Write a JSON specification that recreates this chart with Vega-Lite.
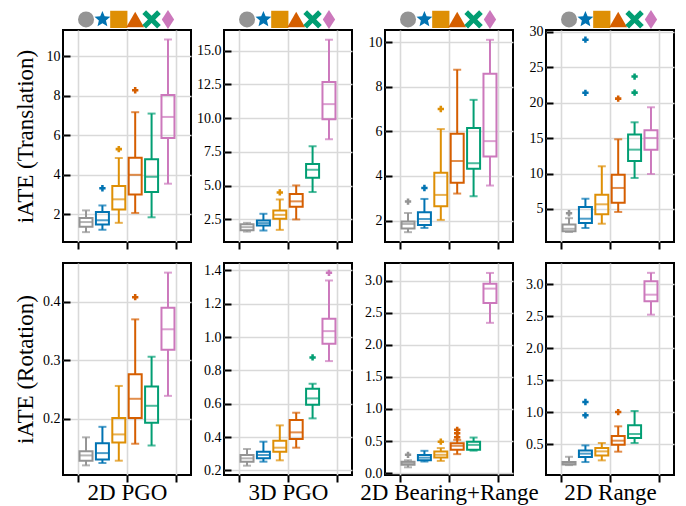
{
"$schema":"https://vega.github.io/schema/vega-lite/v6.json",
"padding":{"left":13,"top":8,"right":5,"bottom":0},
"config":{"font":"Liberation Serif","view":{"stroke":"black","strokeWidth":2},
"axis":{"domain":false,"gridColor":"#d9d9d9","gridWidth":1.6,"tickColor":"black","tickWidth":2,"labelFont":"Liberation Serif","labelFontSize":14,"labelColor":"black","labelOverlap":false,"titleFont":"Liberation Serif","titleFontSize":23,"titleFontWeight":"normal","titleColor":"black"},
"axisX":{"tickSize":7,"labels":false,"grid":true,"titlePadding":-2},
"axisY":{"tickSize":-7,"labelPadding":10,"grid":true,"titlePadding":4,"labelOverlap":false}},
"datasets":{
"rows":[
{"p":"PGO2","m":"T","k":1,"lo":1.1,"q1":1.37,"md":1.61,"q3":1.81,"hi":2.2},
{"p":"PGO2","m":"T","k":2,"lo":1.22,"q1":1.48,"md":1.7,"q3":2.12,"hi":2.45},
{"p":"PGO2","m":"T","k":3,"lo":1.57,"q1":2.25,"md":2.76,"q3":3.43,"hi":4.85},
{"p":"PGO2","m":"T","k":4,"lo":2.07,"q1":3.01,"md":4.0,"q3":4.87,"hi":7.17},
{"p":"PGO2","m":"T","k":5,"lo":1.85,"q1":3.13,"md":3.9,"q3":4.79,"hi":7.1},
{"p":"PGO2","m":"T","k":6,"lo":3.55,"q1":5.86,"md":6.93,"q3":8.04,"hi":10.85},
{"p":"PGO2","m":"T","k":2,"v":3.32},
{"p":"PGO2","m":"T","k":3,"v":5.3},
{"p":"PGO2","m":"T","k":4,"v":8.28},
{"p":"PGO3","m":"T","k":1,"lo":1.6,"q1":1.7,"md":1.93,"q3":2.15,"hi":2.25},
{"p":"PGO3","m":"T","k":2,"lo":1.68,"q1":2.05,"md":2.23,"q3":2.43,"hi":2.92},
{"p":"PGO3","m":"T","k":3,"lo":1.73,"q1":2.55,"md":2.84,"q3":3.17,"hi":3.98},
{"p":"PGO3","m":"T","k":4,"lo":2.5,"q1":3.44,"md":3.84,"q3":4.38,"hi":5.02},
{"p":"PGO3","m":"T","k":5,"lo":4.53,"q1":5.59,"md":6.18,"q3":6.6,"hi":7.92},
{"p":"PGO3","m":"T","k":6,"lo":8.44,"q1":9.92,"md":11.04,"q3":12.67,"hi":15.81},
{"p":"PGO3","m":"T","k":3,"v":4.5},
{"p":"BR","m":"T","k":1,"lo":1.48,"q1":1.65,"md":1.85,"q3":1.96,"hi":2.34},
{"p":"BR","m":"T","k":2,"lo":1.67,"q1":1.8,"md":2.07,"q3":2.37,"hi":2.97},
{"p":"BR","m":"T","k":3,"lo":2.03,"q1":2.64,"md":3.15,"q3":4.14,"hi":6.1},
{"p":"BR","m":"T","k":4,"lo":3.21,"q1":3.7,"md":4.67,"q3":5.89,"hi":8.76},
{"p":"BR","m":"T","k":5,"lo":3.09,"q1":4.32,"md":4.57,"q3":6.15,"hi":7.41},
{"p":"BR","m":"T","k":6,"lo":3.57,"q1":4.87,"md":5.56,"q3":8.58,"hi":10.1},
{"p":"BR","m":"T","k":1,"v":2.85},
{"p":"BR","m":"T","k":2,"v":3.46},
{"p":"BR","m":"T","k":3,"v":7.0},
{"p":"RG","m":"T","k":1,"lo":1.75,"q1":1.85,"md":2.2,"q3":2.8,"hi":3.7},
{"p":"RG","m":"T","k":2,"lo":2.32,"q1":3.02,"md":3.63,"q3":5.28,"hi":6.45},
{"p":"RG","m":"T","k":3,"lo":2.92,"q1":4.25,"md":5.66,"q3":7.02,"hi":11.03},
{"p":"RG","m":"T","k":4,"lo":4.58,"q1":5.89,"md":7.97,"q3":9.85,"hi":14.84},
{"p":"RG","m":"T","k":5,"lo":9.38,"q1":11.78,"md":13.38,"q3":15.5,"hi":17.24},
{"p":"RG","m":"T","k":6,"lo":9.94,"q1":13.38,"md":15.03,"q3":16.11,"hi":19.36},
{"p":"RG","m":"T","k":1,"v":4.4},
{"p":"RG","m":"T","k":2,"v":21.4},
{"p":"RG","m":"T","k":2,"v":28.9},
{"p":"RG","m":"T","k":4,"v":20.58},
{"p":"RG","m":"T","k":5,"v":21.43},
{"p":"RG","m":"T","k":5,"v":23.69},
{"p":"PGO2","m":"R","k":1,"lo":0.12,"q1":0.128,"md":0.137,"q3":0.144,"hi":0.168},
{"p":"PGO2","m":"R","k":2,"lo":0.124,"q1":0.13,"md":0.141,"q3":0.158,"hi":0.186},
{"p":"PGO2","m":"R","k":3,"lo":0.128,"q1":0.159,"md":0.173,"q3":0.201,"hi":0.256},
{"p":"PGO2","m":"R","k":4,"lo":0.157,"q1":0.201,"md":0.234,"q3":0.276,"hi":0.37},
{"p":"PGO2","m":"R","k":5,"lo":0.154,"q1":0.193,"md":0.222,"q3":0.255,"hi":0.306},
{"p":"PGO2","m":"R","k":6,"lo":0.239,"q1":0.318,"md":0.353,"q3":0.39,"hi":0.45},
{"p":"PGO2","m":"R","k":4,"v":0.408},
{"p":"PGO3","m":"R","k":1,"lo":0.228,"q1":0.252,"md":0.272,"q3":0.292,"hi":0.328},
{"p":"PGO3","m":"R","k":2,"lo":0.252,"q1":0.272,"md":0.292,"q3":0.312,"hi":0.372},
{"p":"PGO3","m":"R","k":3,"lo":0.26,"q1":0.312,"md":0.336,"q3":0.378,"hi":0.47},
{"p":"PGO3","m":"R","k":4,"lo":0.336,"q1":0.388,"md":0.428,"q3":0.502,"hi":0.546},
{"p":"PGO3","m":"R","k":5,"lo":0.512,"q1":0.594,"md":0.632,"q3":0.69,"hi":0.72},
{"p":"PGO3","m":"R","k":6,"lo":0.856,"q1":0.96,"md":1.036,"q3":1.11,"hi":1.34},
{"p":"PGO3","m":"R","k":5,"v":0.878},
{"p":"PGO3","m":"R","k":6,"v":1.386},
{"p":"BR","m":"R","k":1,"lo":0.09,"q1":0.13,"md":0.155,"q3":0.175,"hi":0.2},
{"p":"BR","m":"R","k":2,"lo":0.18,"q1":0.2,"md":0.24,"q3":0.28,"hi":0.347},
{"p":"BR","m":"R","k":3,"lo":0.19,"q1":0.244,"md":0.285,"q3":0.337,"hi":0.39},
{"p":"BR","m":"R","k":4,"lo":0.295,"q1":0.363,"md":0.425,"q3":0.466,"hi":0.518},
{"p":"BR","m":"R","k":5,"lo":0.35,"q1":0.363,"md":0.44,"q3":0.49,"hi":0.554},
{"p":"BR","m":"R","k":6,"lo":2.342,"q1":2.653,"md":2.876,"q3":2.95,"hi":3.12},
{"p":"BR","m":"R","k":1,"v":0.285},
{"p":"BR","m":"R","k":3,"v":0.49},
{"p":"BR","m":"R","k":4,"v":0.56},
{"p":"BR","m":"R","k":4,"v":0.622},
{"p":"BR","m":"R","k":4,"v":0.674},
{"p":"RG","m":"R","k":1,"lo":0.17,"q1":0.18,"md":0.2,"q3":0.22,"hi":0.3},
{"p":"RG","m":"R","k":2,"lo":0.218,"q1":0.296,"md":0.349,"q3":0.4,"hi":0.479},
{"p":"RG","m":"R","k":3,"lo":0.244,"q1":0.32,"md":0.385,"q3":0.437,"hi":0.516},
{"p":"RG","m":"R","k":4,"lo":0.38,"q1":0.49,"md":0.552,"q3":0.625,"hi":0.777},
{"p":"RG","m":"R","k":5,"lo":0.516,"q1":0.594,"md":0.657,"q3":0.792,"hi":1.017},
{"p":"RG","m":"R","k":6,"lo":2.525,"q1":2.734,"md":2.838,"q3":3.05,"hi":3.18},
{"p":"RG","m":"R","k":2,"v":0.949},
{"p":"RG","m":"R","k":2,"v":1.158},
{"p":"RG","m":"R","k":4,"v":1.0}
],
"icons":[{"k":1},{"k":2},{"k":3},{"k":4},{"k":5},{"k":6}]
},
"data":{"name":"rows"},
"columns":4,
"spacing":{"row":21,"column":33},
"bounds":"flush",
"concat":[
{"width":128,"height":212,"resolve":{"scale":{"y":"independent"}},"layer":[
{"transform":[{"filter":"datum.p=='PGO2'&&datum.m=='T'"}],
"encoding":{"x":{"field":"k","type":"quantitative","scale":{"domain":[-0.1,7.1],"nice":false,"zero":false},"axis":{"values":[0.5,3.5,6.5],"title":null}},"color":{"field":"k","type":"nominal","scale":{"domain":[1,2,3,4,5,6],"range":["#949494","#0173b2","#de8f05","#d55e00","#029e73","#cc78bc"]},"legend":null}},
"layer":[
{"mark":{"type":"rule","strokeWidth":2},"encoding":{"y":{"field":"lo","type":"quantitative","scale":{"domain":[0.6,11.33],"nice":false,"zero":false},"axis":{"values":[2,4,6,8,10],"tickCount":20,"format":"d","labelOverlap":false,"title":"iATE (Translation)","minExtent":22,"maxExtent":22}},"y2":{"field":"q1"}}},
{"mark":{"type":"rule","strokeWidth":2},"encoding":{"y":{"field":"q3","type":"quantitative"},"y2":{"field":"hi"}}},
{"mark":{"type":"bar","size":13,"filled":false,"strokeWidth":2},"encoding":{"y":{"field":"q1","type":"quantitative"},"y2":{"field":"q3"}}},
{"mark":{"type":"tick","orient":"horizontal","size":13,"thickness":2},"encoding":{"y":{"field":"md","type":"quantitative"}}},
{"mark":{"type":"tick","orient":"horizontal","size":8,"thickness":2},"encoding":{"y":{"field":"lo","type":"quantitative"}}},
{"mark":{"type":"tick","orient":"horizontal","size":8,"thickness":2},"encoding":{"y":{"field":"hi","type":"quantitative"}}},
{"mark":{"type":"point","shape":"cross","filled":true,"size":40,"opacity":1},"encoding":{"y":{"field":"v","type":"quantitative"}}}
]},
{"data":{"name":"icons"},"mark":{"type":"point","filled":true,"opacity":1},"encoding":{"x":{"field":"k","type":"quantitative"},"y":{"datum":1.05,"type":"quantitative","scale":{"domain":[0,1],"nice":false,"zero":false},"axis":null},"color":{"field":"k","type":"nominal","legend":null},"shape":{"field":"k","type":"nominal","scale":{"domain":[1,2,3,4,5,6],"range":["circle","M0,-1L0.265,-0.364L0.951,-0.309L0.428,0.139L0.588,0.809L0,0.45L-0.588,0.809L-0.428,0.139L-0.951,-0.309L-0.265,-0.364Z","square","triangle-up","M-0.6,-1L0,-0.4L0.6,-1L1,-0.6L0.4,0L1,0.6L0.6,1L0,0.4L-0.6,1L-1,0.6L-0.4,0L-1,-0.6Z","M0,-1L0.65,0L0,1L-0.65,0Z"]},"legend":null},"size":{"field":"k","type":"ordinal","scale":{"domain":[1,2,3,4,5,6],"range":[256,360,272,361,324,400]},"legend":null}}}
]},
{"width":128,"height":212,"resolve":{"scale":{"y":"independent"}},"layer":[
{"transform":[{"filter":"datum.p=='PGO3'&&datum.m=='T'"}],
"encoding":{"x":{"field":"k","type":"quantitative","scale":{"domain":[-0.1,7.1],"nice":false,"zero":false},"axis":{"values":[0.5,3.5,6.5],"title":null}},"color":{"field":"k","type":"nominal","scale":{"domain":[1,2,3,4,5,6],"range":["#949494","#0173b2","#de8f05","#d55e00","#029e73","#cc78bc"]},"legend":null}},
"layer":[
{"mark":{"type":"rule","strokeWidth":2},"encoding":{"y":{"field":"lo","type":"quantitative","scale":{"domain":[0.83,16.53],"nice":false,"zero":false},"axis":{"values":[2.5,5,7.5,10,12.5,15],"tickCount":20,"format":".1f","labelOverlap":false,"title":null}},"y2":{"field":"q1"}}},
{"mark":{"type":"rule","strokeWidth":2},"encoding":{"y":{"field":"q3","type":"quantitative"},"y2":{"field":"hi"}}},
{"mark":{"type":"bar","size":13,"filled":false,"strokeWidth":2},"encoding":{"y":{"field":"q1","type":"quantitative"},"y2":{"field":"q3"}}},
{"mark":{"type":"tick","orient":"horizontal","size":13,"thickness":2},"encoding":{"y":{"field":"md","type":"quantitative"}}},
{"mark":{"type":"tick","orient":"horizontal","size":8,"thickness":2},"encoding":{"y":{"field":"lo","type":"quantitative"}}},
{"mark":{"type":"tick","orient":"horizontal","size":8,"thickness":2},"encoding":{"y":{"field":"hi","type":"quantitative"}}},
{"mark":{"type":"point","shape":"cross","filled":true,"size":40,"opacity":1},"encoding":{"y":{"field":"v","type":"quantitative"}}}
]},
{"data":{"name":"icons"},"mark":{"type":"point","filled":true,"opacity":1},"encoding":{"x":{"field":"k","type":"quantitative"},"y":{"datum":1.05,"type":"quantitative","scale":{"domain":[0,1],"nice":false,"zero":false},"axis":null},"color":{"field":"k","type":"nominal","legend":null},"shape":{"field":"k","type":"nominal","scale":{"domain":[1,2,3,4,5,6],"range":["circle","M0,-1L0.265,-0.364L0.951,-0.309L0.428,0.139L0.588,0.809L0,0.45L-0.588,0.809L-0.428,0.139L-0.951,-0.309L-0.265,-0.364Z","square","triangle-up","M-0.6,-1L0,-0.4L0.6,-1L1,-0.6L0.4,0L1,0.6L0.6,1L0,0.4L-0.6,1L-1,0.6L-0.4,0L-1,-0.6Z","M0,-1L0.65,0L0,1L-0.65,0Z"]},"legend":null},"size":{"field":"k","type":"ordinal","scale":{"domain":[1,2,3,4,5,6],"range":[256,360,272,361,324,400]},"legend":null}}}
]},
{"width":128,"height":212,"resolve":{"scale":{"y":"independent"}},"layer":[
{"transform":[{"filter":"datum.p=='BR'&&datum.m=='T'"}],
"encoding":{"x":{"field":"k","type":"quantitative","scale":{"domain":[-0.1,7.1],"nice":false,"zero":false},"axis":{"values":[0.5,3.5,6.5],"title":null}},"color":{"field":"k","type":"nominal","scale":{"domain":[1,2,3,4,5,6],"range":["#949494","#0173b2","#de8f05","#d55e00","#029e73","#cc78bc"]},"legend":null}},
"layer":[
{"mark":{"type":"rule","strokeWidth":2},"encoding":{"y":{"field":"lo","type":"quantitative","scale":{"domain":[1.04,10.54],"nice":false,"zero":false},"axis":{"values":[2,4,6,8,10],"tickCount":20,"format":"d","labelOverlap":false,"title":null}},"y2":{"field":"q1"}}},
{"mark":{"type":"rule","strokeWidth":2},"encoding":{"y":{"field":"q3","type":"quantitative"},"y2":{"field":"hi"}}},
{"mark":{"type":"bar","size":13,"filled":false,"strokeWidth":2},"encoding":{"y":{"field":"q1","type":"quantitative"},"y2":{"field":"q3"}}},
{"mark":{"type":"tick","orient":"horizontal","size":13,"thickness":2},"encoding":{"y":{"field":"md","type":"quantitative"}}},
{"mark":{"type":"tick","orient":"horizontal","size":8,"thickness":2},"encoding":{"y":{"field":"lo","type":"quantitative"}}},
{"mark":{"type":"tick","orient":"horizontal","size":8,"thickness":2},"encoding":{"y":{"field":"hi","type":"quantitative"}}},
{"mark":{"type":"point","shape":"cross","filled":true,"size":40,"opacity":1},"encoding":{"y":{"field":"v","type":"quantitative"}}}
]},
{"data":{"name":"icons"},"mark":{"type":"point","filled":true,"opacity":1},"encoding":{"x":{"field":"k","type":"quantitative"},"y":{"datum":1.05,"type":"quantitative","scale":{"domain":[0,1],"nice":false,"zero":false},"axis":null},"color":{"field":"k","type":"nominal","legend":null},"shape":{"field":"k","type":"nominal","scale":{"domain":[1,2,3,4,5,6],"range":["circle","M0,-1L0.265,-0.364L0.951,-0.309L0.428,0.139L0.588,0.809L0,0.45L-0.588,0.809L-0.428,0.139L-0.951,-0.309L-0.265,-0.364Z","square","triangle-up","M-0.6,-1L0,-0.4L0.6,-1L1,-0.6L0.4,0L1,0.6L0.6,1L0,0.4L-0.6,1L-1,0.6L-0.4,0L-1,-0.6Z","M0,-1L0.65,0L0,1L-0.65,0Z"]},"legend":null},"size":{"field":"k","type":"ordinal","scale":{"domain":[1,2,3,4,5,6],"range":[256,360,272,361,324,400]},"legend":null}}}
]},
{"width":128,"height":212,"resolve":{"scale":{"y":"independent"}},"layer":[
{"transform":[{"filter":"datum.p=='RG'&&datum.m=='T'"}],
"encoding":{"x":{"field":"k","type":"quantitative","scale":{"domain":[-0.1,7.1],"nice":false,"zero":false},"axis":{"values":[0.5,3.5,6.5],"title":null}},"color":{"field":"k","type":"nominal","scale":{"domain":[1,2,3,4,5,6],"range":["#949494","#0173b2","#de8f05","#d55e00","#029e73","#cc78bc"]},"legend":null}},
"layer":[
{"mark":{"type":"rule","strokeWidth":2},"encoding":{"y":{"field":"lo","type":"quantitative","scale":{"domain":[0.34,30.27],"nice":false,"zero":false},"axis":{"values":[5,10,15,20,25,30],"tickCount":20,"format":"d","labelOverlap":false,"title":null}},"y2":{"field":"q1"}}},
{"mark":{"type":"rule","strokeWidth":2},"encoding":{"y":{"field":"q3","type":"quantitative"},"y2":{"field":"hi"}}},
{"mark":{"type":"bar","size":13,"filled":false,"strokeWidth":2},"encoding":{"y":{"field":"q1","type":"quantitative"},"y2":{"field":"q3"}}},
{"mark":{"type":"tick","orient":"horizontal","size":13,"thickness":2},"encoding":{"y":{"field":"md","type":"quantitative"}}},
{"mark":{"type":"tick","orient":"horizontal","size":8,"thickness":2},"encoding":{"y":{"field":"lo","type":"quantitative"}}},
{"mark":{"type":"tick","orient":"horizontal","size":8,"thickness":2},"encoding":{"y":{"field":"hi","type":"quantitative"}}},
{"mark":{"type":"point","shape":"cross","filled":true,"size":40,"opacity":1},"encoding":{"y":{"field":"v","type":"quantitative"}}}
]},
{"data":{"name":"icons"},"mark":{"type":"point","filled":true,"opacity":1},"encoding":{"x":{"field":"k","type":"quantitative"},"y":{"datum":1.05,"type":"quantitative","scale":{"domain":[0,1],"nice":false,"zero":false},"axis":null},"color":{"field":"k","type":"nominal","legend":null},"shape":{"field":"k","type":"nominal","scale":{"domain":[1,2,3,4,5,6],"range":["circle","M0,-1L0.265,-0.364L0.951,-0.309L0.428,0.139L0.588,0.809L0,0.45L-0.588,0.809L-0.428,0.139L-0.951,-0.309L-0.265,-0.364Z","square","triangle-up","M-0.6,-1L0,-0.4L0.6,-1L1,-0.6L0.4,0L1,0.6L0.6,1L0,0.4L-0.6,1L-1,0.6L-0.4,0L-1,-0.6Z","M0,-1L0.65,0L0,1L-0.65,0Z"]},"legend":null},"size":{"field":"k","type":"ordinal","scale":{"domain":[1,2,3,4,5,6],"range":[256,360,272,361,324,400]},"legend":null}}}
]},
{"width":128,"height":212,"transform":[{"filter":"datum.p=='PGO2'&&datum.m=='R'"}],
"encoding":{"x":{"field":"k","type":"quantitative","scale":{"domain":[-0.1,7.1],"nice":false,"zero":false},"axis":{"values":[0.5,3.5,6.5],"title":"2D PGO"}},"color":{"field":"k","type":"nominal","scale":{"domain":[1,2,3,4,5,6],"range":["#949494","#0173b2","#de8f05","#d55e00","#029e73","#cc78bc"]},"legend":null}},
"layer":[
{"mark":{"type":"rule","strokeWidth":2},"encoding":{"y":{"field":"lo","type":"quantitative","scale":{"domain":[0.1035,0.4665],"nice":false,"zero":false},"axis":{"values":[0.2,0.3,0.4],"tickCount":20,"format":".1f","labelOverlap":false,"title":"iATE (Rotation)","minExtent":22,"maxExtent":22}},"y2":{"field":"q1"}}},
{"mark":{"type":"rule","strokeWidth":2},"encoding":{"y":{"field":"q3","type":"quantitative"},"y2":{"field":"hi"}}},
{"mark":{"type":"bar","size":13,"filled":false,"strokeWidth":2},"encoding":{"y":{"field":"q1","type":"quantitative"},"y2":{"field":"q3"}}},
{"mark":{"type":"tick","orient":"horizontal","size":13,"thickness":2},"encoding":{"y":{"field":"md","type":"quantitative"}}},
{"mark":{"type":"tick","orient":"horizontal","size":8,"thickness":2},"encoding":{"y":{"field":"lo","type":"quantitative"}}},
{"mark":{"type":"tick","orient":"horizontal","size":8,"thickness":2},"encoding":{"y":{"field":"hi","type":"quantitative"}}},
{"mark":{"type":"point","shape":"cross","filled":true,"size":40,"opacity":1},"encoding":{"y":{"field":"v","type":"quantitative"}}}
]},
{"width":128,"height":212,"transform":[{"filter":"datum.p=='PGO3'&&datum.m=='R'"}],
"encoding":{"x":{"field":"k","type":"quantitative","scale":{"domain":[-0.1,7.1],"nice":false,"zero":false},"axis":{"values":[0.5,3.5,6.5],"title":"3D PGO"}},"color":{"field":"k","type":"nominal","scale":{"domain":[1,2,3,4,5,6],"range":["#949494","#0173b2","#de8f05","#d55e00","#029e73","#cc78bc"]},"legend":null}},
"layer":[
{"mark":{"type":"rule","strokeWidth":2},"encoding":{"y":{"field":"lo","type":"quantitative","scale":{"domain":[0.172,1.445],"nice":false,"zero":false},"axis":{"values":[0.2,0.4,0.6,0.8,1.0,1.2,1.4],"tickCount":20,"format":".1f","labelOverlap":false,"title":null}},"y2":{"field":"q1"}}},
{"mark":{"type":"rule","strokeWidth":2},"encoding":{"y":{"field":"q3","type":"quantitative"},"y2":{"field":"hi"}}},
{"mark":{"type":"bar","size":13,"filled":false,"strokeWidth":2},"encoding":{"y":{"field":"q1","type":"quantitative"},"y2":{"field":"q3"}}},
{"mark":{"type":"tick","orient":"horizontal","size":13,"thickness":2},"encoding":{"y":{"field":"md","type":"quantitative"}}},
{"mark":{"type":"tick","orient":"horizontal","size":8,"thickness":2},"encoding":{"y":{"field":"lo","type":"quantitative"}}},
{"mark":{"type":"tick","orient":"horizontal","size":8,"thickness":2},"encoding":{"y":{"field":"hi","type":"quantitative"}}},
{"mark":{"type":"point","shape":"cross","filled":true,"size":40,"opacity":1},"encoding":{"y":{"field":"v","type":"quantitative"}}}
]},
{"width":128,"height":212,"transform":[{"filter":"datum.p=='BR'&&datum.m=='R'"}],
"encoding":{"x":{"field":"k","type":"quantitative","scale":{"domain":[-0.1,7.1],"nice":false,"zero":false},"axis":{"values":[0.5,3.5,6.5],"title":"2D Bearing+Range"}},"color":{"field":"k","type":"nominal","scale":{"domain":[1,2,3,4,5,6],"range":["#949494","#0173b2","#de8f05","#d55e00","#029e73","#cc78bc"]},"legend":null}},
"layer":[
{"mark":{"type":"rule","strokeWidth":2},"encoding":{"y":{"field":"lo","type":"quantitative","scale":{"domain":[-0.03,3.275],"nice":false,"zero":false},"axis":{"values":[0,0.5,1,1.5,2,2.5,3],"tickCount":20,"format":".1f","labelOverlap":false,"title":null}},"y2":{"field":"q1"}}},
{"mark":{"type":"rule","strokeWidth":2},"encoding":{"y":{"field":"q3","type":"quantitative"},"y2":{"field":"hi"}}},
{"mark":{"type":"bar","size":13,"filled":false,"strokeWidth":2},"encoding":{"y":{"field":"q1","type":"quantitative"},"y2":{"field":"q3"}}},
{"mark":{"type":"tick","orient":"horizontal","size":13,"thickness":2},"encoding":{"y":{"field":"md","type":"quantitative"}}},
{"mark":{"type":"tick","orient":"horizontal","size":8,"thickness":2},"encoding":{"y":{"field":"lo","type":"quantitative"}}},
{"mark":{"type":"tick","orient":"horizontal","size":8,"thickness":2},"encoding":{"y":{"field":"hi","type":"quantitative"}}},
{"mark":{"type":"point","shape":"cross","filled":true,"size":40,"opacity":1},"encoding":{"y":{"field":"v","type":"quantitative"}}}
]},
{"width":128,"height":212,"transform":[{"filter":"datum.p=='RG'&&datum.m=='R'"}],
"encoding":{"x":{"field":"k","type":"quantitative","scale":{"domain":[-0.1,7.1],"nice":false,"zero":false},"axis":{"values":[0.5,3.5,6.5],"title":"2D Range"}},"color":{"field":"k","type":"nominal","scale":{"domain":[1,2,3,4,5,6],"range":["#949494","#0173b2","#de8f05","#d55e00","#029e73","#cc78bc"]},"legend":null}},
"layer":[
{"mark":{"type":"rule","strokeWidth":2},"encoding":{"y":{"field":"lo","type":"quantitative","scale":{"domain":[0.015,3.334],"nice":false,"zero":false},"axis":{"values":[0.5,1,1.5,2,2.5,3],"tickCount":20,"format":".1f","labelOverlap":false,"title":null}},"y2":{"field":"q1"}}},
{"mark":{"type":"rule","strokeWidth":2},"encoding":{"y":{"field":"q3","type":"quantitative"},"y2":{"field":"hi"}}},
{"mark":{"type":"bar","size":13,"filled":false,"strokeWidth":2},"encoding":{"y":{"field":"q1","type":"quantitative"},"y2":{"field":"q3"}}},
{"mark":{"type":"tick","orient":"horizontal","size":13,"thickness":2},"encoding":{"y":{"field":"md","type":"quantitative"}}},
{"mark":{"type":"tick","orient":"horizontal","size":8,"thickness":2},"encoding":{"y":{"field":"lo","type":"quantitative"}}},
{"mark":{"type":"tick","orient":"horizontal","size":8,"thickness":2},"encoding":{"y":{"field":"hi","type":"quantitative"}}},
{"mark":{"type":"point","shape":"cross","filled":true,"size":40,"opacity":1},"encoding":{"y":{"field":"v","type":"quantitative"}}}
]}
]
}
